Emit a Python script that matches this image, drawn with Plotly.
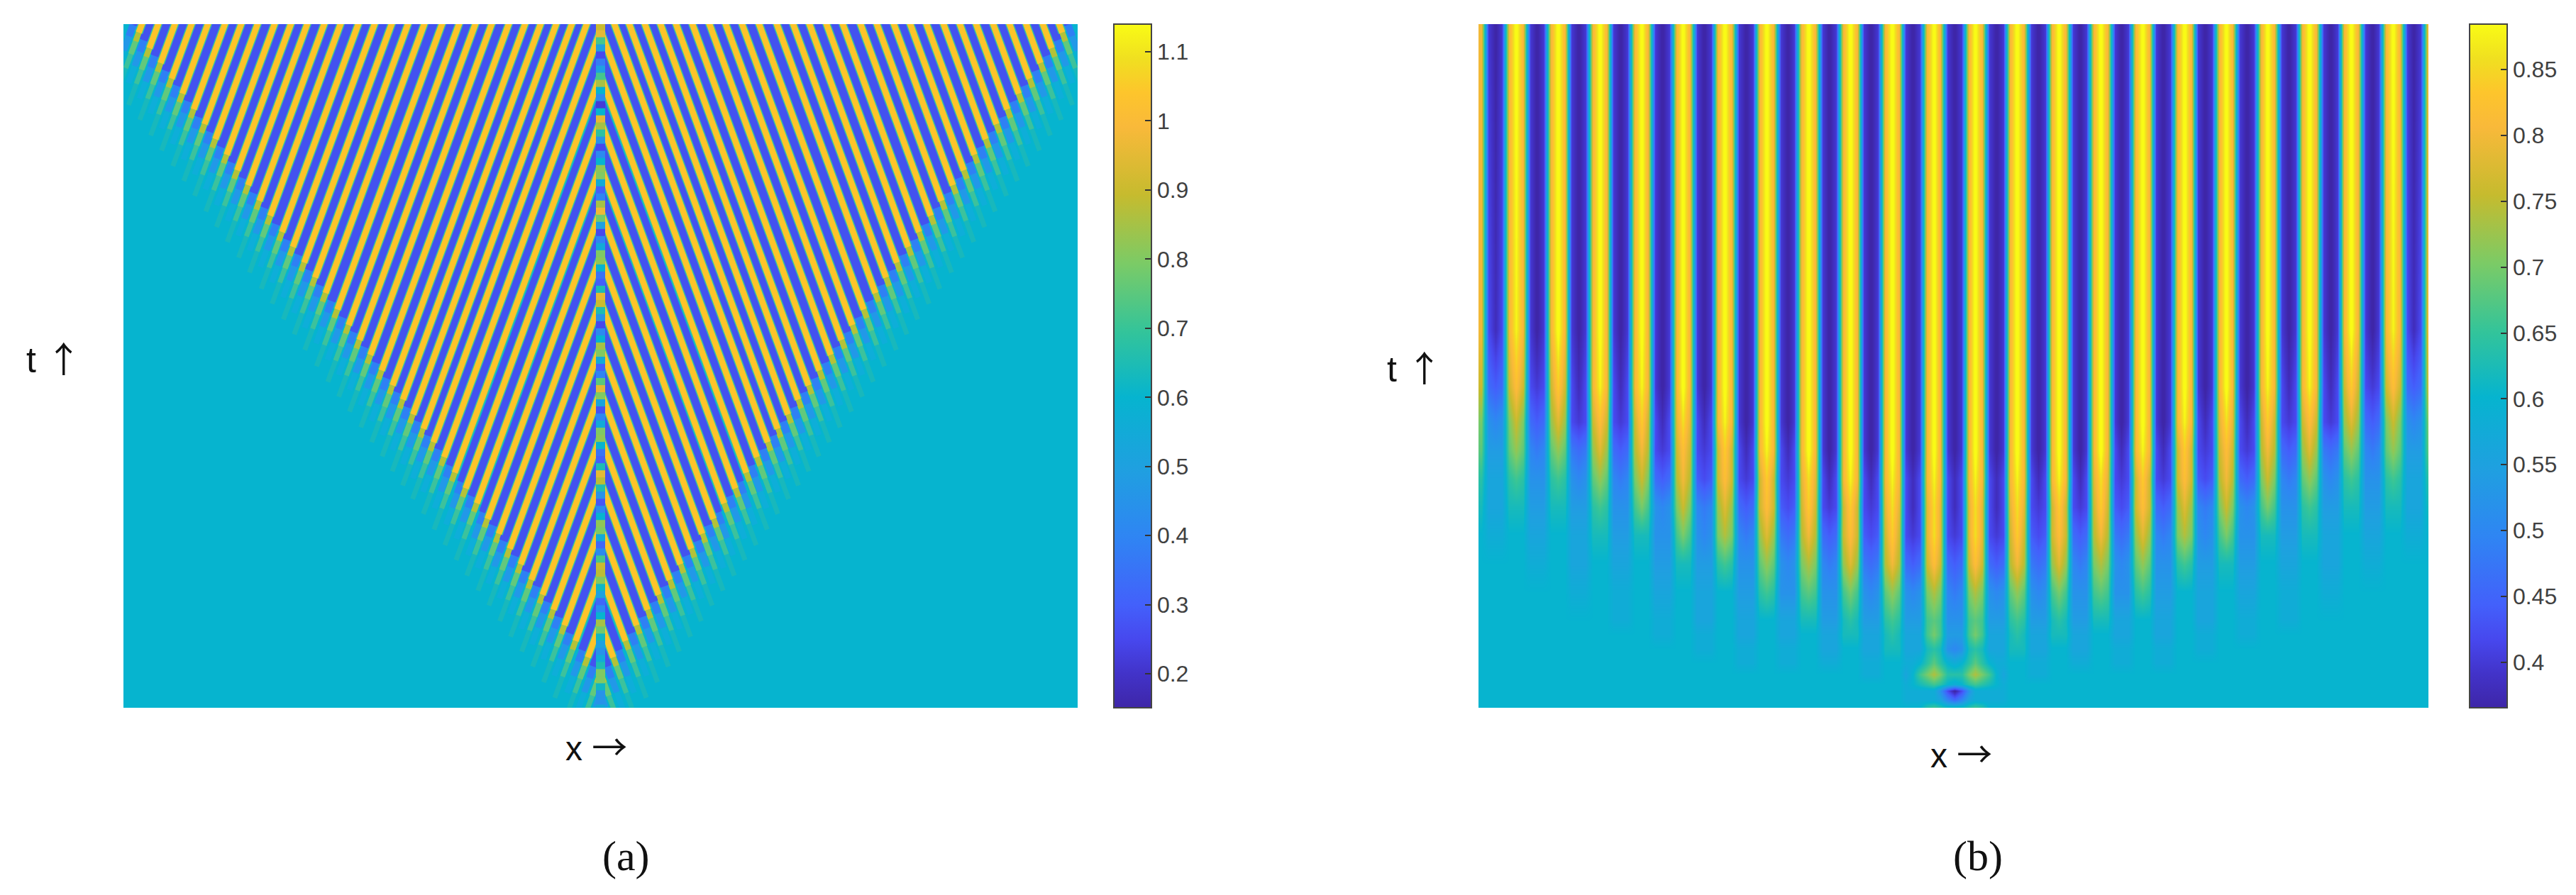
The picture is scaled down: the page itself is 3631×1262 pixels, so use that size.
import plotly.graph_objects as go

W, H = 3631, 1262
PANEL_Y = (34, 998)
PANEL_A_X = (174, 1519)
PANEL_B_X = (2084, 3423)
CBAR_A_X = 1570
CBAR_B_X = 3481

# Colour scale
scale_pos = [0, .05, .10, .15, .25, .35, .454, .55, .65, .75, .85, .90, .95, 1]
scale_col = ["#3e26a8", "#4233c9", "#4748ee", "#4360fb", "#2f85f3", "#1fa0e0", "#06b4cf",
             "#33c49a", "#7bcb66", "#c6bb2e", "#f9b93a", "#fdc52c", "#f0e020", "#f9fb15"]
parula = [[p, c] for p, c in zip(scale_pos, scale_col)]

# Panel (a) colour bar
a_range = (0.151, 1.14)
a_ticks = [1.1, 1, .9, .8, .7, .6, .5, .4, .3, .2]
a_labels = ["1.1", "1", "0.9", "0.8", "0.7", "0.6", "0.5", "0.4", "0.3", "0.2"]
# Panel (b) colour bar
b_range = (0.3654, 0.8846)
b_ticks = [.85, .8, .75, .7, .65, .6, .55, .5, .45, .4]
b_labels = ["0.85", "0.8", "0.75", "0.7", "0.65", "0.6", "0.55", "0.5", "0.45", "0.4"]

# Panel (a): the stripes are read one at a time from the picture (x from the left edge,
# y downward from the top, in reference pixels) and drawn as lines over a flat 0.6 field.
# This is an approximation of the original pixel field, not its cell values.
background_value = 0.6
stripe_slope = 0.367
top_crest_x = [26, 49, 72.5, 96, 119, 143, 166, 189, 213, 236, 259, 283, 306, 331, 354, 378, 401, 424,
               449, 473, 496, 519, 543, 566, 588, 610, 632, 653]
top_crest_end = [12, 34, 55, 77, 98, 120, 141, 162, 184, 206, 227, 249, 270, 293, 314, 336, 357, 379,
                 402, 424, 445, 466, 488, 509, 529, 550, 570, 589]
mid_crest_y = [9, 72, 136, 200, 263, 327, 390, 454, 517, 581, 644, 708, 773, 843, 914]
mid_crest_end = [610, 632, 654, 675, 697, 718, 739, 761, 783, 804, 825, 847, 869, 892, 916]
top_trough_x = [14, 37.5, 61, 84, 107.5, 131, 154.5, 178, 201, 224.5, 248, 271, 294.5, 318.5, 342.5, 366,
                389.5, 412.5, 436.5, 461, 484.5, 507.5, 531, 554.5, 577, 599, 621, 642.5, 664]
top_trough_end = [1, 23, 45, 66, 87, 109, 131, 152, 173, 195, 217, 238, 259, 282, 304, 325, 347, 368,
                  390, 413, 434, 455, 477, 499, 519, 540, 560, 580, 599]
mid_trough_y = [44, 111, 171, 238, 293, 356, 420, 484, 547, 610, 674, 740, 813, 879, 944]
mid_trough_end = [622, 645, 665, 688, 706, 728, 749, 771, 792, 814, 835, 858, 882, 905, 926]

# Centre column of panel (a), one value per 10 px row, top to bottom
centre_z = [.9, .95, .72, .5, .25, .38, .5, .72, .85, .6, .42, .22, .6, .95, .85, .68, .45, .25, .42, .6,
            .82, .8, .55, .3, .4, .85, .97, .78, .5, .25, .4, .55, .8, .82, .6, .35, .3, .65, .95, .9,
            .65, .45, .25, .42, .6, .85, .8, .55, .3, .4, .75, .95, .8, .52, .27, .4, .55, .8, .82, .6,
            .35, .3, .65, .95, .88, .65, .45, .28, .42, .6, .82, .8, .55, .32, .42, .72, .9, .88, .8, .62,
            .5, .32, .42, .6, .85, .78, .62, .5, .45, .55, .65, .8, .8, .62, .45, .45, .55]

# Panel (b): left half of the field, one character per column (the field is mirrored about
# the central column). Each character is a value on the level scale below.
b_levels = "0123456789ABCDEFGHIJKLMNOPQR"
b_level_start = 0.36
b_level_step = 0.02
b_row_y = [0, 430, 510, 560, 600, 640, 680, 720, 760, 800, 840, 860, 880, 900, 916, 930, 939, 952, 963]
b_rows = [
    "M2 02MRM2 02MRM2 02MRM2 02MRM2 02MRM2 02MRM2 02MRM2 02MRM2 02MRM2 02MRM2 02MRM2 0",
    "M3 13MQM2 02MRM2 02MRM2 02MRM2 02MRM2 02MRM2 02MRM2 02MRM2 02MRM2 02MRM2 02MRM2 0",
    "K5 45KNK3 23KOK3 13MQM3 13MQM2 02MRM2 02MRM2 02MRM2 02MRM2 02MRM2 02MRM2 02MRM2 0",
    "H8 78HKH5 45ILI3 23KNK3 23KOK3 13LPL3 13MQM2 02MRM2 02MRM2 02MRM2 02MRM2 02MRM2 0",
    "G9 99GIG7 67GIG6 56ILI5 45JMJ3 23KNK3 23KOK3 13MQM3 13MRM2 02MRM2 02MRM2 02MRM2 0",
    "EA AAEFE8 88EFE8 78GIG7 67HKH5 45JMJ4 34KNK3 23KOK3 23LPL3 13MQM3 13MQM3 13MQM3 1",
    "DA AADDD9 99DDD9 99EFE8 88FHF8 78HKH7 67ILI5 45KNK4 34KOK3 23KOK3 23LPL3 13LPL3 1",
    "CB BBCCCA AACCCA AADDD9 99DDD8 88FHF8 78HJH7 67ILI6 56JMJ5 45KNK4 34KOK3 23LPL3 2",
    "CC CCCCCB BBCCCA AACCCA AACCC9 99DDD9 99EFE8 88GIG8 78HJH7 67ILI6 56JMJ5 45KNK5 4",
    "CC CCCCCC CCCCCB BBCCCB BBCCCA AACCCA AACCC9 99EFE8 88FGF8 88FHF8 78GIG8 78HJH7 6",
    "CC CCCCCC CCCCCC CCCCCB BBCCCB BBCCCA AACCCA AACCCA AADDD9 99DED9 99EFE9 99FGF8 8",
    "CC CCCCCC CCCCCC CCCCCC CCCCCB BBCCCB BBCCCA AACCCA AACCCA AADDDA AADEDA AAFHF9 9",
    "CC CCCCCC CCCCCC CCCCCC CCCCCC CCCCCB BBCCCB BBCCCB BBCCCA AACCCA AADDDA AADED8 7",
    "CC CCCCCC CCCCCC CCCCCC CCCCCC CCCCCC CCCCCB BBCCCB BBCCCB BBCCCB BBCCCB BCEGEC B",
    "CC CCCCCC CCCCCC CCCCCC CCCCCC CCCCCC CCCCCC CCCCCC CCCCCC CCCCCB BBCCCA CFHJHE E",
    "CC CCCCCC CCCCCC CCCCCC CCCCCC CCCCCC CCCCCC CCCCCC CCCCCC CCCCCC CCCCCB CDEFEC B",
    "CC CCCCCC CCCCCC CCCCCC CCCCCC CCCCCC CCCCCC CCCCCC CCCCCC CCCCCC CCCCCB BBBB83 0",
    "CC CCCCCC CCCCCC CCCCCC CCCCCC CCCCCC CCCCCC CCCCCC CCCCCC CCCCCC CCCCCB BBBBA7 5",
    "CC CCCCCC CCCCCC CCCCCC CCCCCC CCCCCC CCCCCC CCCCCC CCCCCC CCCCCC CCCCCC CCEFED D",
]

PANEL_W, PANEL_T = 1345, 963
CENTRE = 672.5


def stripes(top_x, top_end, mid_y, mid_end, extra):
    """None-separated stripe lines, left half and its mirror image, extended by `extra` past the front."""
    xs, ts = [], []
    starts = [(x, 0, e) for x, e in zip(top_x, top_end)] + [(CENTRE, y, e) for y, e in zip(mid_y, mid_end)]
    for x0, y0, end in starts:
        y1 = end + extra
        if y1 <= y0:
            continue
        # stripes on the top edge start a little above the plot so their ends are clipped square
        ya = y0 - 20 if y0 == 0 else y0
        xa = x0 - stripe_slope * (ya - y0)
        xb = x0 - stripe_slope * (y1 - y0)
        for a, b in ((xa, xb), (PANEL_W - xa, PANEL_W - xb)):
            xs += [a, b, None]
            ts += [PANEL_T - ya, PANEL_T - y1, None]
    return xs, ts


fig = go.Figure()

fig.add_trace(go.Heatmap(x=[0, PANEL_W], y=[0, PANEL_T], z=[[background_value] * 2] * 2, coloraxis="coloraxis",
                         xaxis="x", yaxis="y", hoverinfo="skip"))

# (family, colour, width, extension past the front)
layers = [
    ("trough", "#0eaed9", 8, 60),
    ("crest", "#18b8bc", 7, 80),
    ("trough", "#2298e8", 9, 36),
    ("crest", "#3cc29c", 7, 50),
    ("trough", "#2f80f4", 10, 16),
    ("crest", "#62c97c", 8, 30),
    ("crest", "#b4c238", 8, 12),
    ("trough", "#4352ef", 13, 0),
    ("crest", "#3ac49a", 11.5, 0),
    ("crest", "#fdc42a", 8.5, 0),
]
for family, colour, width, extra in layers:
    if family == "crest":
        xs, ts = stripes(top_crest_x, top_crest_end, mid_crest_y, mid_crest_end, extra)
    else:
        xs, ts = stripes(top_trough_x, top_trough_end, mid_trough_y, mid_trough_end, extra)
    fig.add_trace(go.Scatter(x=xs, y=ts, mode="lines", line=dict(color=colour, width=width, simplify=False),
                             xaxis="x", yaxis="y", hoverinfo="skip", showlegend=False))

fig.add_trace(go.Scatter(x=[CENTRE] * len(centre_z), y=[PANEL_T - 5 - 10 * i for i in range(len(centre_z))],
                         mode="markers", xaxis="x", yaxis="y", hoverinfo="skip", showlegend=False,
                         marker=dict(symbol="square", size=13, color=centre_z, coloraxis="coloraxis",
                                     line=dict(width=0))))

b_matrix = []
for row in b_rows:
    chars = row.replace(" ", "")
    vals = [b_level_start + b_level_step * b_levels.index(c) for c in chars]
    b_matrix.append(vals + vals[-2::-1])
fig.add_trace(go.Heatmap(x=list(range(len(b_matrix[0]))), y=[PANEL_T - v for v in b_row_y][::-1], z=b_matrix[::-1],
                         coloraxis="coloraxis2", xaxis="x2", yaxis="y2", zsmooth="best", hoverinfo="skip"))


def bar(x_px, ticks, labels):
    return dict(x=x_px / W, xanchor="left", xref="paper", y=1 - PANEL_Y[1] / H, yanchor="bottom", yref="paper",
                len=(PANEL_Y[1] - PANEL_Y[0]) / H, lenmode="fraction", thickness=53, thicknessmode="pixels",
                xpad=0, ypad=0, outlinecolor="#444444", outlinewidth=2, tickmode="array", tickvals=ticks,
                ticktext=labels, ticks="inside", ticklen=10, tickwidth=1.5, tickcolor="#333333",
                tickfont=dict(family="Liberation Sans", size=32, color="#404040"))


UP = "<span style=\"font-family:'Noto Sans CJK SC';font-size:50px\">↑</span>"
RIGHT = "<span style=\"font-family:'Noto Sans CJK SC';font-size:50px\">→</span>"
notes = [("t " + UP, 76, 503, "Liberation Sans", 50), ("x " + RIGHT, 840, 1050, "Liberation Sans", 48),
         ("(a)", 882, 1207, "Liberation Serif", 60),
         ("t " + UP, 1994, 516, "Liberation Sans", 50), ("x " + RIGHT, 2764, 1060, "Liberation Sans", 48),
         ("(b)", 2788, 1207, "Liberation Serif", 60)]

fig.update_layout(
    width=W, height=H, autosize=False, margin=dict(l=0, r=0, t=0, b=0), paper_bgcolor="white", plot_bgcolor="white",
    showlegend=False,
    xaxis=dict(domain=[PANEL_A_X[0] / W, PANEL_A_X[1] / W], range=[0, PANEL_W], visible=False),
    yaxis=dict(domain=[1 - PANEL_Y[1] / H, 1 - PANEL_Y[0] / H], range=[0, PANEL_T], visible=False),
    xaxis2=dict(domain=[PANEL_B_X[0] / W, PANEL_B_X[1] / W], range=[-0.4, 136.1], visible=False),
    yaxis2=dict(domain=[1 - PANEL_Y[1] / H, 1 - PANEL_Y[0] / H], range=[0, PANEL_T], visible=False, anchor="x2"),
    coloraxis=dict(colorscale=parula, cmin=a_range[0], cmax=a_range[1], colorbar=bar(CBAR_A_X, a_ticks, a_labels)),
    coloraxis2=dict(colorscale=parula, cmin=b_range[0], cmax=b_range[1], colorbar=bar(CBAR_B_X, b_ticks, b_labels)),
    annotations=[dict(text=t, x=x / W, y=1 - y / H, xref="paper", yref="paper", xanchor="center", yanchor="middle",
                      showarrow=False, font=dict(family=f, size=s, color="#111111")) for t, x, y, f, s in notes],
)

fig.write_html("out.html", config={"displayModeBar": False}, post_script="document.body.style.margin='0';")
